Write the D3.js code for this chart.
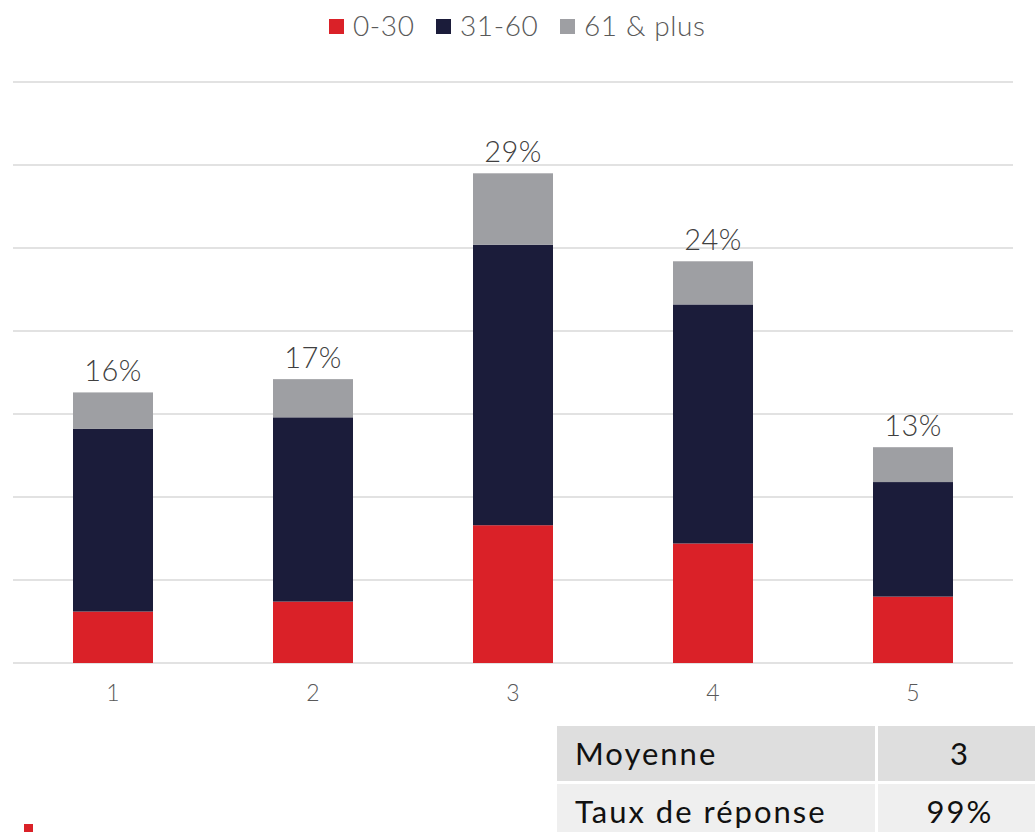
<!DOCTYPE html>
<html><head><meta charset="utf-8">
<script src="https://cdn.jsdelivr.net/npm/d3@7"></script>
<style>
html,body{margin:0;padding:0;background:#fff;overflow:hidden;}
svg{display:block;font-family:"Lato","Open Sans",sans-serif;font-weight:300;}
</style></head>
<body>
<svg id="chart" width="1035" height="832"></svg>
<script>
const categories = ["1","2","3","4","5"];
const seriesNames = ["0-30","31-60","61 & plus"];
const values0to30 = [3.1, 3.7, 8.3, 7.2, 4.0];
const values31to60 = [11.0, 11.1, 16.9, 14.4, 6.9];
const values61plus = [2.2, 2.3, 4.3, 2.6, 2.1];
const totalLabels = ["16%","17%","29%","24%","13%"];
const yTicks = [0,5,10,15,20,25,30,35];
const tableRows = [["Moyenne","3"],["Taux de réponse","99%"]];
const colors = ["#da2128","#1b1c3a","#9e9fa3"];

(function(){
const svg = d3.select("#chart");
const pLeft = 13, pRight = 1013, pTop = 82, pBottom = 663;

const x = d3.scaleBand().domain(categories).range([pLeft, pRight]).paddingInner(0.6).paddingOuter(0.3);
const y = d3.scaleLinear().domain([0,35]).range([pBottom, pTop]);

// gridlines
svg.append("g").selectAll("line").data(yTicks).join("line")
  .attr("x1", pLeft).attr("x2", pRight)
  .attr("y1", d => y(d)).attr("y2", d => y(d))
  .attr("stroke", "#d9d9d9").attr("stroke-width", 1.5);

const rows = categories.map((c,i) => ({cat:c, s0:values0to30[i], s1:values31to60[i], s2:values61plus[i]}));
const stack = d3.stack().keys(["s0","s1","s2"])(rows);

svg.append("g").selectAll("g").data(stack).join("g")
  .attr("fill", (d,i) => colors[i])
  .selectAll("rect").data(d => d).join("rect")
  .attr("x", d => x(d.data.cat))
  .attr("width", x.bandwidth())
  .attr("y", d => y(d[1]))
  .attr("height", d => y(d[0]) - y(d[1]));

// total labels
svg.append("g").selectAll("text").data(rows).join("text")
  .attr("x", d => x(d.cat) + x.bandwidth()/2)
  .attr("y", d => y(d.s0+d.s1+d.s2) - 11)
  .attr("text-anchor", "middle")
  .attr("font-size", 29).attr("letter-spacing", 0.5).attr("fill", "#404040")
  .text((d,i) => totalLabels[i]);

// x axis
const xAxis = svg.append("g").attr("transform", `translate(0,${pBottom})`)
  .call(d3.axisBottom(x).tickSize(0).tickPadding(22));
xAxis.select(".domain").remove();
xAxis.selectAll("text").attr("font-size", 23).attr("fill", "#595959")
  .attr("font-family", "Lato, sans-serif").attr("font-weight", 300);

// legend
const legendX = [329, 436, 560];
const lg = svg.append("g").selectAll("g").data(seriesNames).join("g")
  .attr("transform", (d,i) => `translate(${legendX[i]},19)`);
lg.append("rect").attr("width", 15).attr("height", 15).attr("fill", (d,i) => colors[i]);
lg.append("text").attr("x", 24).attr("y", 17).attr("font-size", 28).attr("letter-spacing", 0.6).attr("fill", "#595959").text(d => d);

// table
const tX = [557, 878], tW = [318, 160], tY = [726, 784], tH = [55, 50];
const tFill = ["#dedede", "#efefef"];
const tb = svg.append("g");
tableRows.forEach((r, ri) => {
  r.forEach((cell, ci) => {
    tb.append("rect").attr("x", tX[ci]).attr("y", tY[ri]).attr("width", tW[ci]).attr("height", tH[ri]).attr("fill", tFill[ri]);
    tb.append("text")
      .attr("x", ci === 0 ? 575 : tX[ci] + tW[ci]/2 + 2)
      .attr("y", tY[ri] + 39)
      .attr("text-anchor", ci === 0 ? "start" : "middle")
      .attr("font-size", 31).attr("font-weight", 400).attr("letter-spacing", 2)
      .attr("fill", "#111").text(cell);
  });
});

// small red mark bottom-left
svg.append("rect").attr("x", 24).attr("y", 824).attr("width", 9).attr("height", 10).attr("fill", "#da2128");
})();
</script>
</body></html>
